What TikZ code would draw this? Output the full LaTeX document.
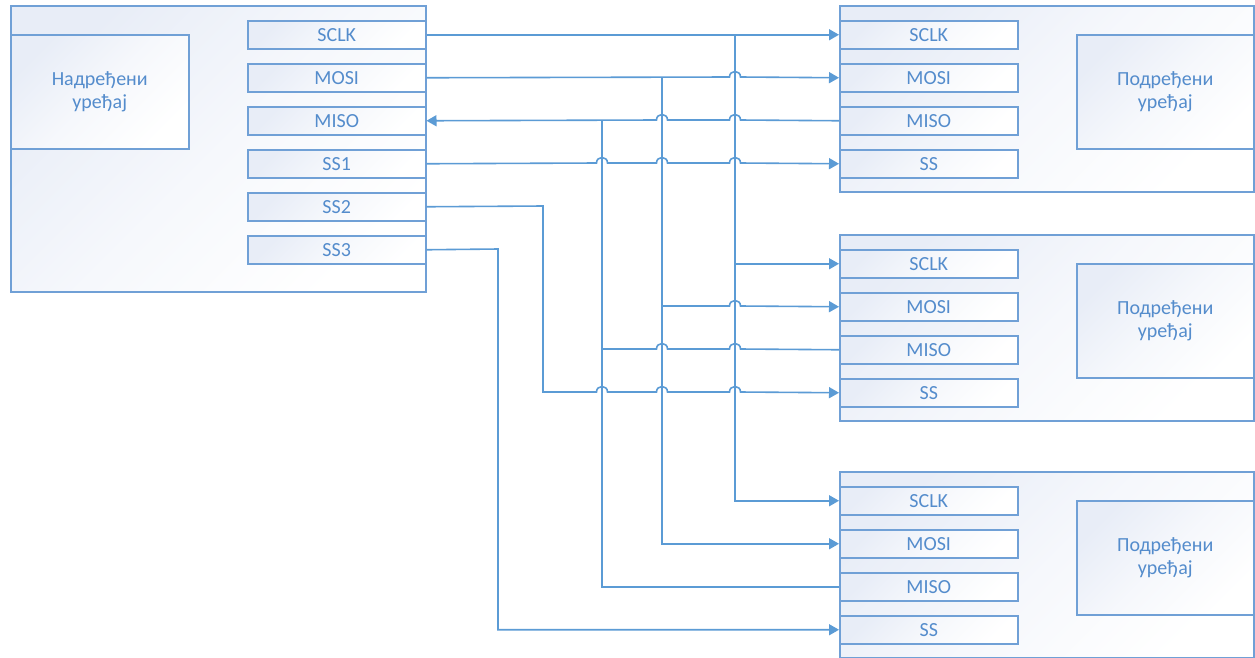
\documentclass[tikz,border=0pt]{standalone}
\usepackage{fontspec}
\setmainfont{Carlito}
\usetikzlibrary{arrows.meta}
\definecolor{wirec}{RGB}{91,155,213}
\definecolor{borderc}{RGB}{112,160,214}
\definecolor{textc}{RGB}{84,140,204}
\definecolor{shadec}{RGB}{232,237,247}
\newcommand\hp[2]{-- (#1-5.5,#2) .. controls (#1-5.5,#2-7.3) and (#1+5.5,#2-7.3) .. (#1+5.5,#2)}
\tikzset{
  boxbase/.style={draw=borderc, line width=1.5pt, rectangle, inner sep=0pt, anchor=north west,
    top color=shadec, bottom color=white, middle color=white!60!shadec, shading angle=45, text=textc,
    font=\fontsize{20}{23}\selectfont, align=center},
  sig/.style={boxbase, minimum width=178pt, minimum height=28pt},
  wire/.style={draw=wirec, line width=1.6pt},
  arr/.style={wire, -{Triangle[length=10pt,width=11pt]}},
  rarr/.style={wire, {Triangle[length=10pt,width=11pt]}-},
}
\begin{document}
\begin{tikzpicture}[x=1pt,y=-1pt]
\useasboundingbox[fill=white] (0,0) rectangle (1255,657);
% master
\node[boxbase, minimum width=415pt, minimum height=286pt] (master) at (10,5) {};
\node[boxbase, minimum width=178pt, minimum height=114pt] (mcore) at (10,34) {Надређени\\уређај};
\node[sig] (m1) at (247,20) {SCLK};
\node[sig] (m2) at (247,63) {MOSI};
\node[sig] (m3) at (247,106) {MISO};
\node[sig] (m4) at (247,149) {SS1};
\node[sig] (m5) at (247,192) {SS2};
\node[sig] (m6) at (247,235) {SS3};
% slaves
\foreach \n/\y in {a/5,b/234,c/471}{
  \node[boxbase, minimum width=414pt, minimum height=186pt] (s\n) at (839,\y) {};
  \node[boxbase, minimum width=177pt, minimum height=114pt] (s\n core) at (1076,\y+29) {Подређени\\уређај};
  \node[sig] (s\n1) at (839,\y+15) {SCLK};
  \node[sig] (s\n2) at (839,\y+58) {MOSI};
  \node[sig] (s\n3) at (839,\y+101) {MISO};
  \node[sig] (s\n4) at (839,\y+144) {SS};
}
% junctions
\coordinate (jclk) at (735,34);
\coordinate (jmosi) at (662,77);
\coordinate (jmiso) at (602,120);
\coordinate (jss2) at (543,206);
\coordinate (jss3) at (498,249);
% SCLK
\draw[arr] (m1.east) -- (sa1.west);
\draw[arr] (jclk) |- (sb1.west);
\draw[arr] (jclk) |- (sc1.west);
% MOSI
\draw[arr] (m2.east) \hp{735}{77} -- (sa2.west);
\draw[arr] (jmosi) -- (662,306) \hp{735}{306} -- (sb2.west);
\draw[arr] (jmosi) |- (sc2.west);
% MISO
\draw[rarr] (m3.east) \hp{662}{120} \hp{735}{120} -- (sa3.west);
\draw[wire] (jmiso) -- (602,349) \hp{662}{349} \hp{735}{349} -- (sb3.west);
\draw[wire] (jmiso) |- (sc3.west);
% SS1
\draw[arr] (m4.east) \hp{602}{163} \hp{662}{163} \hp{735}{163} -- (sa4.west);
% SS2
\draw[arr] (m5.east) -- (jss2) -- (543,392) \hp{602}{392} \hp{662}{392} \hp{735}{392} -- (sb4.west);
% SS3
\draw[arr] (m6.east) -- (jss3) |- (sc4.west);
\end{tikzpicture}
\end{document}
